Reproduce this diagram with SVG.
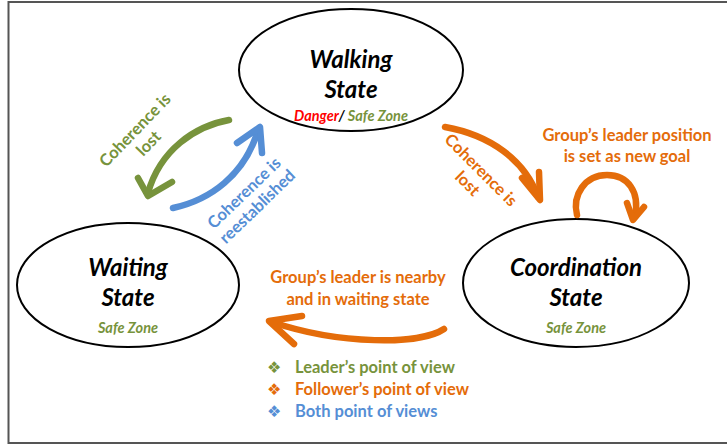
<svg xmlns="http://www.w3.org/2000/svg" width="727" height="445" viewBox="0 0 727 445">
<style>
.node{fill:#fff;stroke:#000;stroke-width:2}
.title{font-family:Lato,"Liberation Sans",sans-serif;font-weight:bold;font-style:italic;font-size:24px;fill:#000;text-anchor:middle}
.zone{font-family:Lato,"Liberation Sans",sans-serif;font-weight:bold;font-style:italic;font-size:14.5px;text-anchor:middle}
.lbl{font-family:Lato,"Liberation Sans",sans-serif;font-weight:bold;font-size:16.5px;text-anchor:middle}
.leg{font-family:Lato,"Liberation Sans",sans-serif;font-weight:bold;font-size:16.5px}
.bul{font-family:"DejaVu Sans",sans-serif;font-size:16px}
.arr{fill:none;stroke-width:6.5;stroke-linecap:round;stroke-linejoin:round}
.g{stroke:#77933C}
.o{stroke:#E46C0A}
.b{stroke:#558ED5}
.frame{stroke:#555;stroke-width:2;fill:none}
</style>
<path class="frame" d="M727,2 H8.5 V443 H727"/>
<g id="walking">
<ellipse class="node" cx="351" cy="70" rx="112" ry="61"/>
<text class="title" x="351" y="68">Walking</text>
<text class="title" x="351" y="98">State</text>
<text class="zone" x="351" y="121"><tspan fill="#FF0000">Danger</tspan><tspan fill="#000">/ </tspan><tspan fill="#77933C">Safe Zone</tspan></text>
</g>
<g id="waiting">
<ellipse class="node" cx="128" cy="285" rx="111" ry="62"/>
<text class="title" x="128" y="276">Waiting</text>
<text class="title" x="128" y="306">State</text>
<text class="zone" x="128" y="333" fill="#77933C">Safe Zone</text>
</g>
<g id="coordination">
<ellipse class="node" cx="576" cy="283" rx="113" ry="64"/>
<text class="title" x="576" y="276">Coordination</text>
<text class="title" x="576" y="306">State</text>
<text class="zone" x="576" y="333" fill="#77933C">Safe Zone</text>
</g>
<g id="connectors">
<path class="arr g" d="M229,120 C195,126 160,150 148,193"/>
<path class="arr g" d="M138,178 L148,196 L172,182"/>
<path class="arr b" d="M173,208 C210,200 245,175 258,130"/>
<path class="arr b" d="M237,143 L260,127 L262,153"/>
<path class="arr o" d="M445,127 C490,135 525,160 538,197"/>
<path class="arr o" d="M522,178 L540,200 L539,172"/>
<path class="arr o" d="M577,215 C572,195 585,175 607,175 C628,175 640,192 635,216"/>
<path class="arr o" d="M627,203 L633,220 L644,207"/>
<path class="arr o" d="M444,329 C420,345 340,345 272,322"/>
<path class="arr o" d="M302,316 L269,321 L294,344"/>
</g>
<g id="labels">
<text class="lbl" fill="#77933C" transform="translate(139,134) rotate(-46)"><tspan x="0" y="0">Coherence is</tspan><tspan x="0" y="19">lost</tspan></text>
<text class="lbl" fill="#558ED5" transform="translate(248,197) rotate(-44)"><tspan x="0" y="0">Coherence is</tspan><tspan x="0" y="19">reestablished</tspan></text>
<text class="lbl" fill="#E46C0A" transform="translate(477,174) rotate(45)"><tspan x="0" y="0">Coherence is</tspan><tspan x="0" y="19">lost</tspan></text>
<text class="lbl" fill="#E46C0A"><tspan x="627" y="141">Group’s leader position</tspan><tspan x="627" y="162">is set as new goal</tspan></text>
<text class="lbl" fill="#E46C0A"><tspan x="358" y="283">Group’s leader is nearby</tspan><tspan x="358" y="305">and in waiting state</tspan></text>
</g>
<g id="legend">
<text class="bul" x="267" y="373" fill="#77933C">❖</text>
<text class="leg" x="295" y="373" fill="#77933C">Leader’s point of view</text>
<text class="bul" x="267" y="395" fill="#E46C0A">❖</text>
<text class="leg" x="295" y="395" fill="#E46C0A">Follower’s point of view</text>
<text class="bul" x="267" y="417" fill="#558ED5">❖</text>
<text class="leg" x="295" y="417" fill="#558ED5">Both point of views</text>
</g>
</svg>
